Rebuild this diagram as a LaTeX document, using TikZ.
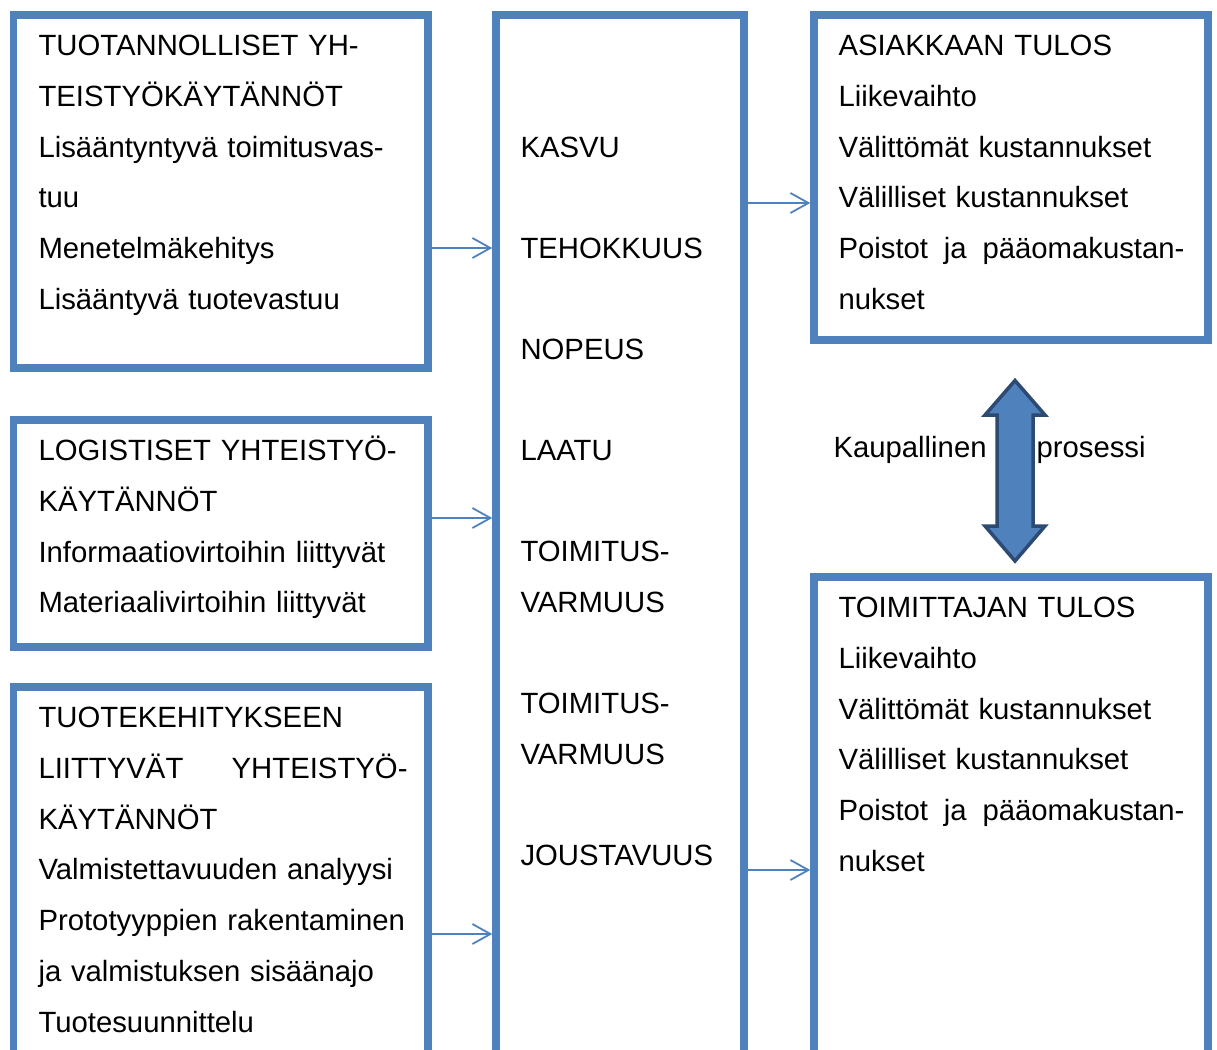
\documentclass[tikz,border=0pt]{standalone}
\usepackage{fontspec}
\setmainfont{Liberation Sans}
\usepackage{tikz}
\usetikzlibrary{arrows.meta}

\definecolor{boxblue}{HTML}{4F81BD}
\definecolor{arrowedge}{HTML}{2C4A72}

\tikzset{
every picture/.style={
line width=1pt
},
panel/.style={draw=boxblue, line width=7.5pt, anchor=north west, inner sep=0pt},
txt/.style={anchor=base west, inner sep=0pt, align=left,
  font=\fontsize{29.3}{50.8}\selectfont},
flow/.style={draw=boxblue, line width=1.8pt, -{Straight Barb[length=18pt,width=20pt]}}
}

\begin{document}
\begin{tikzpicture}[x=1pt,y=-1pt]
  \useasboundingbox (0,0) rectangle (1217,1049);
  \clip (0,0) rectangle (1217,1049);

  % boxes
  \node[panel, minimum width=414.5pt, minimum height=353pt] (prod) at (9.75,11.25) {};
  \node[panel, minimum width=414.5pt, minimum height=227pt] (logi) at (9.75,416.25) {};
  \node[panel, minimum width=414.5pt, minimum height=450pt] (dev) at (9.75,683.25) {};
  \node[panel, minimum width=248pt, minimum height=1150pt] (mid) at (492.25,11.25) {};
  \node[panel, minimum width=394pt, minimum height=325pt] (cust) at (810.25,11.25) {};
  \node[panel, minimum width=394pt, minimum height=600pt] (supp) at (810.25,573.25) {};

  % texts
  \node[txt, text width=369pt] (prodtxt) at (38,55.5) {TUOTANNOLLISET YH-\\
    TEISTYÖKÄYTÄNNÖT\\ Lisääntyntyvä toimitusvas-\\ tuu\\
    Menetelmäkehitys\\ Lisääntyvä tuotevastuu};
  \node[txt, text width=369pt] (logitxt) at (38,460.5) {LOGISTISET YHTEISTYÖ-\\
    KÄYTÄNNÖT\\ Informaatiovirtoihin liittyvät\\ Materiaalivirtoihin liittyvät};
  \node[txt, text width=369pt] (devtxt) at (38,727.5) {TUOTEKEHITYKSEEN\\
    LIITTYVÄT\hfill YHTEISTYÖ-\\ KÄYTÄNNÖT\\ Valmistettavuuden analyysi\\
    Prototyyppien rakentaminen\\ ja valmistuksen sisäänajo\\ Tuotesuunnittelu};
  \node[txt, text width=210pt] (midtxt) at (520,157.5) {KASVU\\[50.3pt]
    TEHOKKUUS\\[50.3pt] NOPEUS\\[50.3pt] LAATU\\[50.3pt] TOIMITUS-\\
    VARMUUS\\[50.3pt] TOIMITUS-\\ VARMUUS\\[50.3pt] JOUSTAVUUS};
  \node[txt, text width=346pt] (custtxt) at (838,55.5) {ASIAKKAAN TULOS\\
    Liikevaihto\\ Välittömät kustannukset\\ Välilliset kustannukset\\
    Poistot\hfill ja\hfill pääomakustan-\\ nukset};
  \node[txt, text width=346pt] (supptxt) at (838,617.5) {TOIMITTAJAN TULOS\\
    Liikevaihto\\ Välittömät kustannukset\\ Välilliset kustannukset\\
    Poistot\hfill ja\hfill pääomakustan-\\ nukset};

  % arrows
  \foreach \src/\dst/\yy in {prod/mid/248, logi/mid/518, dev/mid/934,
      mid/cust/203, mid/supp/870}{
    \draw[flow] (\src.east |- 0,\yy) -- (\dst.west |- 0,\yy);
  }

  % commercial process
  \filldraw[fill=boxblue, draw=arrowedge, line width=3.5pt, line join=miter]
    (1015,380.5) -- (1045,415) -- (1033,415) -- (1033,526) -- (1045,526)
    -- (1015,561) -- (985,526) -- (997,526) -- (997,415) -- (985,415) -- cycle;
  \node[txt] (kaup) at (833,457.5) {Kaupallinen};
  \node[txt] (pros) at (1036,457.5) {prosessi};
\end{tikzpicture}
\end{document}
